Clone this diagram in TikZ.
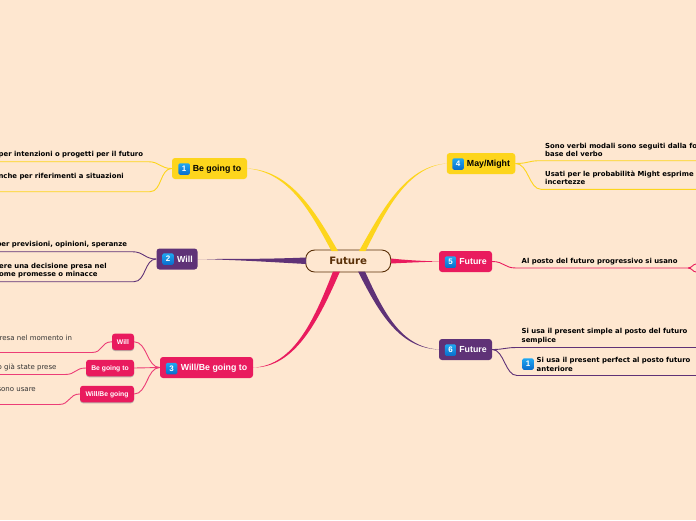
\documentclass[tikz,border=0pt]{standalone}
\usepackage{fontspec}
\setmainfont{DejaVu Sans}
\newfontfamily\lblfont{Liberation Sans}
\definecolor{bgc}{HTML}{FEE7D0}
\definecolor{yel}{HTML}{FDD51C}
\definecolor{pur}{HTML}{5F3277}
\definecolor{pnk}{HTML}{E91B5E}
\definecolor{hubc}{HTML}{5A3008}
\definecolor{icontop}{HTML}{1FA8F2}
\definecolor{iconbot}{HTML}{0A6CCB}
\usetikzlibrary{shadows}
\tikzset{
  x=1pt,y=-1pt,
  box/.style={rounded corners=3pt,inner sep=0pt,text height=6.2pt,text depth=0pt,font=\lblfont\bfseries\fontsize{8.8}{10}\selectfont},
  ybox/.style={box,fill=yel,text=black},
  pbox/.style={box,fill=pur,text=white},
  rbox/.style={box,fill=pnk,text=white},
  sbox/.style={rbox,text height=5pt,font=\lblfont\bfseries\fontsize{6.8}{8}\selectfont,drop shadow={fill=black!45,shadow xshift=0pt,shadow yshift=-1pt,opacity=.6}},
  num/.style={rounded corners=1.5pt,minimum size=11.5pt,inner sep=0pt,text=white,
    top color=icontop,bottom color=iconbot,
    font=\lblfont\bfseries\fontsize{8}{8}\selectfont},
  hub/.style={draw=hubc,fill=bgc,line width=.9pt,rounded corners=9pt,inner sep=0pt,text=hubc,
    minimum width=85pt,minimum height=22pt,font=\bfseries\fontsize{10.2}{11}\selectfont},
  tb/.style={inner sep=0pt,text=black,font=\bfseries\fontsize{6.9}{8}\selectfont,align=left},
  tbl/.style={tb,font=\bfseries\fontsize{6.9}{9}\selectfont},
  tn/.style={inner sep=0pt,text=black!80,font=\fontsize{7}{8}\selectfont,align=left},
  link/.style={line width=.9pt},
}
\begin{document}
\begin{tikzpicture}
\useasboundingbox[fill=bgc] (0,0) rectangle (696,520);
% nodes
\node[hub] (hub) at (348.2,261) {Future};
\node[ybox,minimum width=75pt,minimum height=21pt] (b1) at (209.5,168.5) {\hspace{15pt}Be going to};
\node[pbox,minimum width=41pt,minimum height=21pt] (b2) at (177,259) {\hspace{16pt}Will};
\node[rbox,minimum width=93pt,minimum height=21pt] (b3) at (206.5,367.5) {\hspace{15pt}Will/Be going to};
\node[ybox,minimum width=68.5pt,minimum height=21pt] (b4) at (481,163.5) {\hspace{15pt}May/Might};
\node[rbox,minimum width=53pt,minimum height=21pt] (b5) at (465.5,261.5) {\hspace{15pt}Future};
\node[pbox,minimum width=53pt,minimum height=21pt] (b6) at (465.5,349.5) {\hspace{15pt}Future};
\node[sbox,minimum width=22pt,minimum height=16.5pt] (s1) at (123,341.8) {Will};
\node[sbox,minimum width=48pt,minimum height=16.5pt] (s2) at (110,368) {Be going to};
\node[sbox,minimum width=54pt,minimum height=16.5pt] (s3) at (107,394) {Will/Be going};
% icons
\node[num] (n1) at (184.2,169) {1};
\node[num] (n2) at (168,259) {2};
\node[num] (n3) at (171.5,368.5) {3};
\node[num] (n4) at (458,164) {4};
\node[num] (n5) at (450.5,262) {5};
\node[num] (n6) at (450.5,350) {6};
\node[num] (n7) at (528,364) {1};
% hub ports
\coordinate (py1) at (331.5,251); \coordinate (py2) at (338,251);
\coordinate (py3) at (359,251); \coordinate (py4) at (365.5,251);
\coordinate (pp1) at (306,257.5); \coordinate (pp2) at (306,264);
\coordinate (pr1) at (391,258.5); \coordinate (pr2) at (391,263.5);
\coordinate (pk1) at (333,271.5); \coordinate (pk2) at (340,271.5);
\coordinate (pu1) at (358,271.5); \coordinate (pu2) at (365,271.5);
% main tapered branches
\fill[yel] (b1.east) .. controls (290,172) and (312,215) .. (py1) -- (py2) .. controls (316,213) and (291,170) .. (b1.east) -- cycle;
\fill[yel] (b4.west) .. controls (405,166) and (381,212) .. (py3) -- (py4) .. controls (385,213) and (406,167) .. (b4.west) -- cycle;
\fill[pur] (b2.east) .. controls (240,259) and (270,259) .. (pp1) -- (pp2) .. controls (270,262) and (240,260) .. (b2.east) -- cycle;
\fill[pnk] (pr1) .. controls (410,260.5) and (425,261) .. (b5.west) .. controls (425,262) and (410,262.5) .. (pr2) -- cycle;
\fill[pnk] (b3.east) .. controls (295,366) and (316,315) .. (pk1) -- (pk2) .. controls (320,317) and (296,368) .. (b3.east) -- cycle;
\fill[pur] (b6.west) .. controls (400,348) and (380,315) .. (pu1) -- (pu2) .. controls (384,313) and (401,347) .. (b6.west) -- cycle;
% level-two links
\coordinate (e1a) at (0,161.7); \coordinate (k1a) at (148,161.7);
\coordinate (e1b) at (0,191.7); \coordinate (k1b) at (150,191.7);
\draw[link,yel] (b1.west) .. controls +(-12,0) and +(12,0) .. (k1a) -- (e1a);
\draw[link,yel] (b1.west) .. controls +(-12,0) and +(12,0) .. (k1b) -- (e1b);
\coordinate (e2a) at (0,251.7); \coordinate (k2a) at (132,251.7);
\coordinate (e2b) at (0,281.7); \coordinate (k2b) at (134,281.7);
\draw[link,pur] (b2.west) .. controls +(-12,0) and +(12,0) .. (k2a) -- (e2a);
\draw[link,pur] (b2.west) .. controls +(-12,0) and +(12,0) .. (k2b) -- (e2b);
\draw[link,pnk!85] (b3.west) .. controls +(-13,0) and +(13,0) .. (s1.east);
\draw[link,pnk!85] (b3.west) -- (s2.east);
\draw[link,pnk!85] (b3.west) .. controls +(-13,0) and +(13,0) .. (s3.east);
\coordinate (e3a) at (0,352.5); \coordinate (k3a) at (92,352.5);
\coordinate (e3b) at (0,374.5); \coordinate (k3b) at (65,374.5);
\coordinate (e3c) at (0,404.5); \coordinate (k3c) at (59,404.5);
\draw[link,pnk!85] (s1.west) .. controls +(-11,0) and +(11,0) .. (k3a) -- (e3a);
\draw[link,pnk!85] (s2.west) .. controls +(-11,0) and +(11,0) .. (k3b) -- (e3b);
\draw[link,pnk!85] (s3.west) .. controls +(-11,0) and +(11,0) .. (k3c) -- (e3c);
\coordinate (e4a) at (696,160.7); \coordinate (k4a) at (540,160.7);
\coordinate (e4b) at (696,189.3); \coordinate (k4b) at (541,189.3);
\draw[link,yel] (b4.east) .. controls +(13,0) and +(-12,0) .. (k4a) -- (e4a);
\draw[link,yel] (b4.east) .. controls +(13,0) and +(-12,0) .. (k4b) -- (e4b);
\coordinate (k5) at (516,268); \coordinate (m5) at (688,268);
\coordinate (e5a) at (696,264); \coordinate (e5b) at (696,272);
\draw[link,pnk] (b5.east) .. controls +(12,0) and +(-12,0) .. (k5) -- (m5) .. controls +(4,0) and +(-3,0) .. (e5a);
\draw[link,pnk] (m5) .. controls +(4,0) and +(-3,0) .. (e5b);
\coordinate (e6a) at (696,347.5); \coordinate (k6a) at (517,347.5);
\coordinate (e6b) at (696,375.5); \coordinate (k6b) at (517,375.5);
\draw[link,pur] (b6.east) .. controls +(12,0) and +(-12,0) .. (k6a) -- (e6a);
\draw[link,pur] (b6.east) .. controls +(12,0) and +(-12,0) .. (k6b) -- (e6b);
% texts
\node[tb,anchor=east] (t1) at (143.3,154.5) {per intenzioni o progetti per il futuro};
\node[tb,anchor=east] (t2) at (124,176.7) {nche per riferimenti a situazioni};
\node[tb,anchor=east] (t3) at (127.3,244.5) {per previsioni, opinioni, speranze};
\node[tb,anchor=west] (t4) at (-1,270.5) {ere una decisione presa nel\\ome promesse o minacce};
\node[tn,anchor=east] (t5) at (72.3,337.5) {resa nel momento in};
\node[tn,anchor=east] (t6) at (56.7,367.6) {o già state prese};
\node[tn,anchor=east] (t7) at (36,389.5) {sono usare};
\node[tb,anchor=west] (t8) at (545,149.7) {Sono verbi modali sono seguiti dalla fo\\base del verbo};
\node[tb,anchor=west] (t9) at (545,177.5) {Usati per le probabilità Might esprime\\incertezze};
\node[tb,anchor=west] (t10) at (521.5,261.5) {Al posto del futuro progressivo si usano};
\node[tbl,anchor=west] (t11) at (521.5,336) {Si usa il present simple al posto del futuro\\semplice};
\node[tbl,anchor=west] (t12) at (536.5,364) {Si usa il present perfect al posto futuro\\anteriore};
\end{tikzpicture}
\end{document}
